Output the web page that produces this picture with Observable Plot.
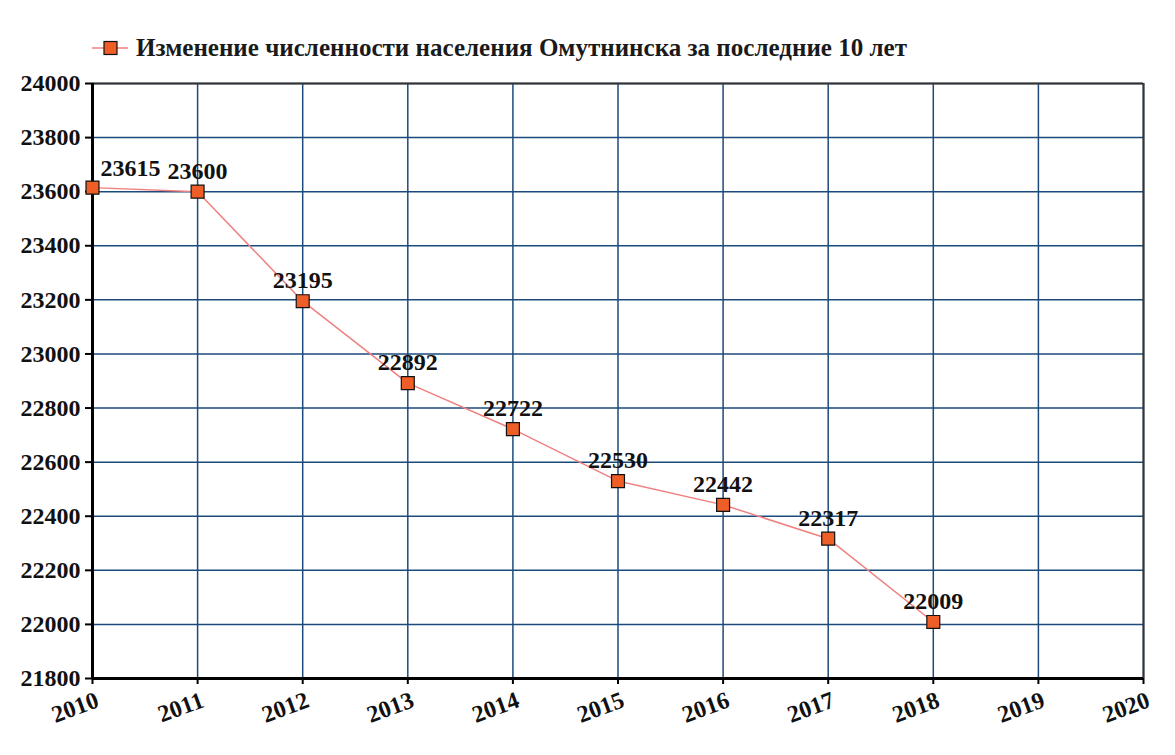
<!DOCTYPE html>
<html>
<head>
<meta charset="utf-8">
<script src="https://cdn.jsdelivr.net/npm/d3@7"></script>
<script src="https://cdn.jsdelivr.net/npm/@observablehq/plot@0.6"></script>
<style>
  body { margin: 0; background: #fff; }
  #legend { display: block; }
  #chart svg text { font-family: "Liberation Serif", serif !important; }
</style>
</head>
<body>
<svg id="legend" width="1175" height="70"></svg>
<div id="chart"></div>
<script>
const years = [2010, 2011, 2012, 2013, 2014, 2015, 2016, 2017, 2018];
const population = [23615, 23600, 23195, 22892, 22722, 22530, 22442, 22317, 22009];
const xTicks = [2010, 2011, 2012, 2013, 2014, 2015, 2016, 2017, 2018, 2019, 2020];
const yTicks = [21800, 22000, 22200, 22400, 22600, 22800, 23000, 23200, 23400, 23600, 23800, 24000];
const legendLabel = "Изменение численности населения Омутнинска за последние 10 лет";

const data = years.map((year, i) => ({year, value: population[i]}));

const lineColor = "#f08080";
const markerFill = "#ee5e26";
const gridColor = "#1d4a7c";
const font = "Liberation Serif";

// legend
const legend = d3.select("#legend");
legend.append("line").attr("x1", 92).attr("x2", 128).attr("y1", 48).attr("y2", 48)
  .attr("stroke", lineColor).attr("stroke-width", 1.5);
legend.append("rect").attr("x", 104).attr("y", 41.5).attr("width", 13).attr("height", 13)
  .attr("fill", markerFill).attr("stroke", "#111").attr("stroke-width", 1.2);
legend.append("text").attr("x", 136).attr("y", 56)
  .attr("font-family", font).attr("font-weight", "bold").attr("font-size", 25)
  .attr("fill", "#1a1a1a")
  .attr("textLength", 771).attr("lengthAdjust", "spacingAndGlyphs")
  .text(legendLabel);

const textStyle = {fontFamily: font, fontSize: 24, fontWeight: "bold", fill: "#111"};

const chart = Plot.plot({
  width: 1175,
  height: 685,
  marginLeft: 92,
  marginRight: 32,
  marginTop: 13,
  marginBottom: 77,
  style: {fontFamily: font, fontSize: "24px", fontWeight: "bold", color: "#111", background: "#fff"},
  x: {domain: [2010, 2020], ticks: xTicks},
  y: {domain: [21800, 24000], ticks: yTicks},
  marks: [
    Plot.gridX(xTicks, {stroke: gridColor, strokeOpacity: 1, strokeWidth: 1.5}),
    Plot.gridY(yTicks, {stroke: gridColor, strokeOpacity: 1, strokeWidth: 1.5}),
    Plot.ruleY([24000], {stroke: "#333", strokeWidth: 2}),
    Plot.ruleX([2020], {stroke: "#333", strokeWidth: 2}),
    Plot.ruleX([2010], {stroke: "#000", strokeWidth: 3}),
    Plot.ruleY([21800], {stroke: "#000", strokeWidth: 3}),
    Plot.axisY({ticks: yTicks, tickSize: 7, tickFormat: () => "", label: null, stroke: "#000", strokeWidth: 2}),
    Plot.text(yTicks, {y: d => d, frameAnchor: "left", text: d => String(d), textAnchor: "end", lineAnchor: "middle", dx: -12, ...textStyle}),
    Plot.axisX({ticks: xTicks, tickSize: 6, tickFormat: () => "", label: null, stroke: "#000", strokeWidth: 2}),
    Plot.text(xTicks, {x: d => d, frameAnchor: "bottom", text: d => String(d), rotate: -20, textAnchor: "end", lineAnchor: "top", dx: 2, dy: 12, ...textStyle}),
    Plot.line(data, {x: "year", y: "value", stroke: lineColor, strokeWidth: 1.5}),
    Plot.dot(data, {x: "year", y: "value", symbol: "square", r: 7.3, fill: markerFill, stroke: "#111", strokeWidth: 1.2}),
    Plot.text(data.slice(0, 1), {x: "year", y: "value", text: d => String(d.value), textAnchor: "start", lineAnchor: "bottom", dx: 8, dy: -12, ...textStyle}),
    Plot.text(data.slice(1), {x: "year", y: "value", text: d => String(d.value), textAnchor: "middle", lineAnchor: "bottom", dy: -13, ...textStyle})
  ]
});
document.getElementById("chart").appendChild(chart);
</script>
</body>
</html>
